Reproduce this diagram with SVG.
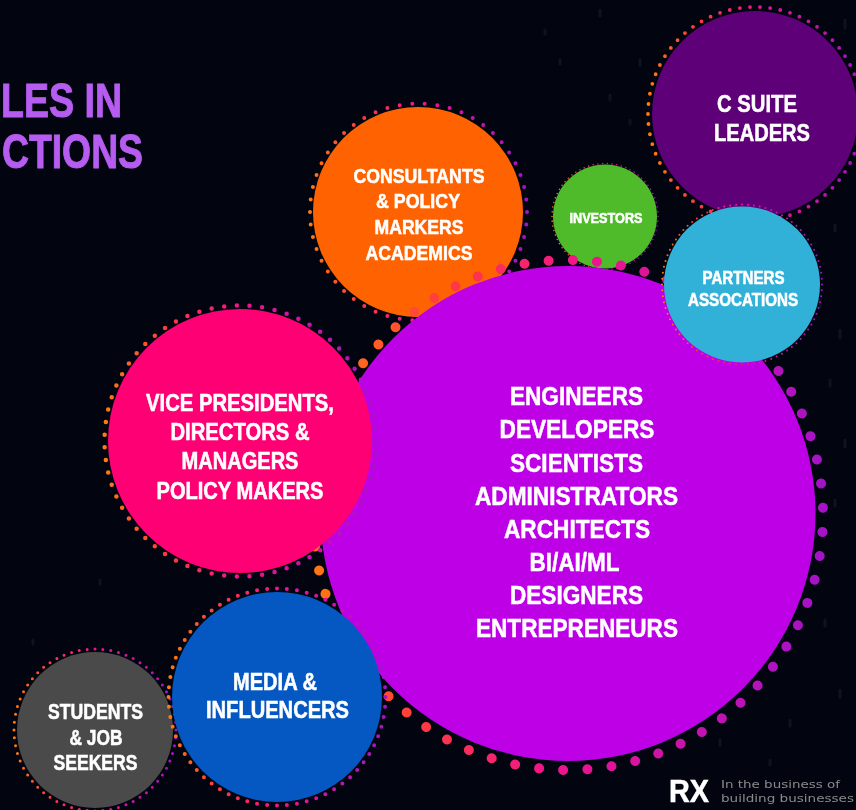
<svg xmlns="http://www.w3.org/2000/svg" width="856" height="810" viewBox="0 0 856 810">
<style>
text{font-family:"Liberation Sans",Arial,sans-serif;font-weight:700;fill:#fff;stroke:#fff;stroke-width:.55px;text-anchor:middle;filter:url(#soft)}
.ring{fill:none;stroke:url(#dots);stroke-linecap:round;stroke-dasharray:0 1}
text.title{fill:#b65cf0;stroke:#b65cf0;stroke-width:1px;text-anchor:end;font-size:49px}
text.tag{font-family:"DejaVu Sans",sans-serif;font-weight:400;fill:#8a8a8a;stroke:none;font-size:11px;text-anchor:start}
.speck{stroke:#2a3350;stroke-width:3;stroke-linecap:round;opacity:.3}
.m{font-size:26.5px}.c{font-size:21px}.c2{font-size:24px}.c3{font-size:21.5px}.v{font-size:24px}.p{font-size:14.5px}.p2{font-size:17.5px}
</style>
<defs>
<linearGradient id="dots" x1="0" y1="0" x2="1" y2="0">
<stop offset="0" stop-color="#ff7a10"/><stop offset=".22" stop-color="#ff3d3d"/><stop offset=".5" stop-color="#f0148c"/><stop offset="1" stop-color="#a512c8"/>
</linearGradient>
<filter id="soft" x="-5%" y="-15%" width="110%" height="130%"><feGaussianBlur stdDeviation=".35"/></filter>
</defs>
<rect width="856" height="810" fill="#02050f"/>
<g id="texture">
<path class="speck" d="M600 10v6M640 60v5M545 30v4M610 95v5M630 120v4M560 60v4M845 20v8M848 120v8M835 225v6M820 300v7M840 330v8M830 380v6M845 440v7M835 500v6M825 620v6M840 690v7M790 720v6M770 760v5M720 740v5M33 640v4M40 700v4M100 580v4"/>
</g>
<g id="title">
<text class="title" x="122" y="117" textLength="121" lengthAdjust="spacingAndGlyphs">LES IN</text>
<text class="title" x="143" y="168" textLength="141" lengthAdjust="spacingAndGlyphs">CTIONS</text>
</g>
<g id="csuite">
<circle class="ring" cx="755" cy="114" r="107" pathLength="66" stroke-width="3.8"/>
<circle cx="755" cy="114" r="103" fill="#5e0078"/>
<text class="c2" x="757" y="112" textLength="80" lengthAdjust="spacingAndGlyphs">C SUITE</text>
<text class="c2" x="762" y="141" textLength="96" lengthAdjust="spacingAndGlyphs">LEADERS</text>
</g>
<g id="consultants">
<circle class="ring" cx="418.500" cy="212" r="108.500" pathLength="54" stroke-width="4"/>
<circle cx="418" cy="212" r="105" fill="#ff6200"/>
<text class="c" x="419" y="183" textLength="131" lengthAdjust="spacingAndGlyphs">CONSULTANTS</text>
<text class="c" x="418" y="208" textLength="84" lengthAdjust="spacingAndGlyphs">&amp; POLICY</text>
<text class="c" x="419" y="234" textLength="89" lengthAdjust="spacingAndGlyphs">MARKERS</text>
<text class="c" x="419" y="260" textLength="107" lengthAdjust="spacingAndGlyphs">ACADEMICS</text>
</g>
<g id="investors">
<circle class="ring" cx="605" cy="216.500" r="53" pathLength="70" stroke-width="1.600"/>
<circle cx="605" cy="216.500" r="52" fill="#4fbb2a"/>
<text class="p" x="606" y="223" textLength="73" lengthAdjust="spacingAndGlyphs">INVESTORS</text>
</g>
<g id="main">
<circle class="ring" cx="568" cy="515" r="255" pathLength="66" stroke-width="10" transform="rotate(3.800 568 515)"/>
<circle cx="568" cy="513.500" r="247.500" fill="#bd00e6"/>
<text class="m" x="576.500" y="405" textLength="133" lengthAdjust="spacingAndGlyphs">ENGINEERS</text>
<text class="m" x="577" y="438" textLength="155" lengthAdjust="spacingAndGlyphs">DEVELOPERS</text>
<text class="m" x="576.500" y="472" textLength="133" lengthAdjust="spacingAndGlyphs">SCIENTISTS</text>
<text class="m" x="576.500" y="505" textLength="203" lengthAdjust="spacingAndGlyphs">ADMINISTRATORS</text>
<text class="m" x="577" y="538" textLength="146" lengthAdjust="spacingAndGlyphs">ARCHITECTS</text>
<text class="m" x="574.500" y="571" textLength="90" lengthAdjust="spacingAndGlyphs">BI/AI/ML</text>
<text class="m" x="576.500" y="604" textLength="133" lengthAdjust="spacingAndGlyphs">DESIGNERS</text>
<text class="m" x="577" y="637" textLength="202" lengthAdjust="spacingAndGlyphs">ENTREPRENEURS</text>
</g>
<g id="vice-presidents">
<circle class="ring" cx="240" cy="441" r="135.500" pathLength="67" stroke-width="4.500"/>
<circle cx="240" cy="441" r="132" fill="#ff0074"/>
<text class="v" x="240" y="411" textLength="188" lengthAdjust="spacingAndGlyphs">VICE PRESIDENTS,</text>
<text class="v" x="240" y="440" textLength="139" lengthAdjust="spacingAndGlyphs">DIRECTORS &amp;</text>
<text class="v" x="240" y="469" textLength="117" lengthAdjust="spacingAndGlyphs">MANAGERS</text>
<text class="v" x="240" y="499" textLength="167" lengthAdjust="spacingAndGlyphs">POLICY MAKERS</text>
</g>
<g id="students">
<circle class="ring" cx="95" cy="730" r="81" pathLength="64" stroke-width="3"/>
<circle cx="95" cy="730" r="78" fill="#4a4a4a"/>
<text class="c3" x="95.500" y="719" textLength="95" lengthAdjust="spacingAndGlyphs">STUDENTS</text>
<text class="c3" x="96" y="745" textLength="53" lengthAdjust="spacingAndGlyphs">&amp; JOB</text>
<text class="c3" x="95.500" y="770" textLength="84" lengthAdjust="spacingAndGlyphs">SEEKERS</text>
</g>
<g id="media">
<circle class="ring" cx="277" cy="697" r="108.500" pathLength="68" stroke-width="4"/>
<circle cx="277" cy="697" r="105" fill="#0557c2"/>
<text class="c2" x="275" y="690" textLength="84" lengthAdjust="spacingAndGlyphs">MEDIA &amp;</text>
<text class="c2" x="277.500" y="718" textLength="143" lengthAdjust="spacingAndGlyphs">INFLUENCERS</text>
</g>
<g id="partners">
<circle class="ring" cx="742" cy="284.500" r="80" pathLength="84" stroke-width="2"/>
<circle cx="742" cy="284.500" r="78" fill="#31b1d8"/>
<text class="p2" x="743.500" y="284" textLength="82" lengthAdjust="spacingAndGlyphs">PARTNERS</text>
<text class="p2" x="743" y="306" textLength="110" lengthAdjust="spacingAndGlyphs">ASSOCATIONS</text>
</g>
<g id="logo">
<text x="689" y="802" font-size="32" fill="#e6e6e6" textLength="40" lengthAdjust="spacingAndGlyphs">RX</text>
<text class="tag" x="721" y="788" textLength="119" lengthAdjust="spacingAndGlyphs">In the business of</text>
<text class="tag" x="721" y="802" textLength="133" lengthAdjust="spacingAndGlyphs">building businesses</text>
</g>
</svg>
